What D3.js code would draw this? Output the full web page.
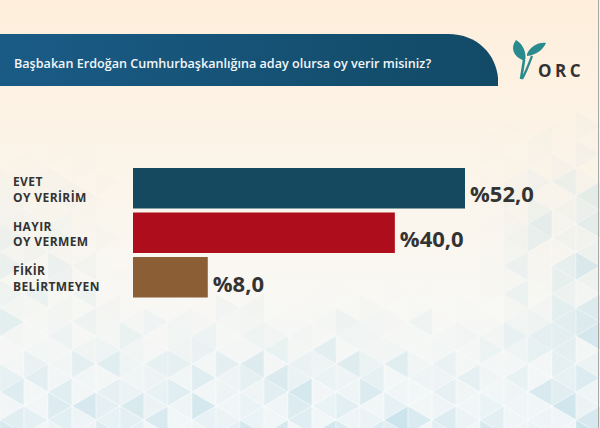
<!DOCTYPE html>
<html>
<head>
<meta charset="utf-8">
<script src="https://cdn.jsdelivr.net/npm/d3@7"></script>
<style>
  html, body { margin: 0; padding: 0; background: #fdf6ec; }
  svg { display: block; }
  text { font-family: "Open Sans", "Noto Sans", sans-serif; }
</style>
</head>
<body>
<svg id="viz" width="600" height="428"></svg>
<script>
// data
var title = "Başbakan Erdoğan Cumhurbaşkanlığına aday olursa oy verir misiniz?";
var categories = ["EVET|OY VERİRİM", "HAYIR|OY VERMEM", "FİKİR|BELİRTMEYEN"];
var values = [52.0, 40.0, 8.0];
var colors = ["#14495f", "#ae0e1b", "#8b5e35"];

function draw() {

    var width = 600,
        height = 428;

    var svg = d3.select("#viz");
    var defs = svg.append("defs");

    // background
    var bg = defs.append("linearGradient")
        .attr("id", "bg")
        .attr("x1", 0).attr("y1", 0).attr("x2", 0).attr("y2", 1);
    bg.append("stop").attr("offset", "0%").attr("stop-color", "#feeedb");
    bg.append("stop").attr("offset", "35%").attr("stop-color", "#fcf4e8");
    bg.append("stop").attr("offset", "70%").attr("stop-color", "#f9f8f4");
    bg.append("stop").attr("offset", "100%").attr("stop-color", "#f6f9fa");

    svg.append("rect")
        .attr("width", width)
        .attr("height", height)
        .attr("fill", "url(#bg)");

    //triangle pattern
    var cw = 24, th = 28;
    var tris = [];
    function hash(a, b) {
        var h = Math.sin(a * 127.1 + b * 311.7) * 43758.5453;
        return h - Math.floor(h);
    }
    function clamp(v) { return Math.max(0, Math.min(1, v)); }
    function weight(x, y) {
        var w = clamp((y - 290) / 120);
        w = Math.max(w, 0.8 * clamp((x - 480) / 100) * clamp((y - 110) / 120));
        w = Math.max(w, 0.55 * clamp((140 - x) / 120) * clamp((y - 130) / 160));
        return w;
    }
    for (var i = 0; i * cw < width; i++) {
        var x0 = i * cw, x1 = x0 + cw;
        var o = (i % 2) * th / 2 - th;
        for (var k = 0; o + k * th < height; k++) {
            var y = o + k * th;
            tris.push({ pts: [[x0, y], [x0, y + th], [x1, y + th / 2]], h: hash(i, k * 2), cx: x0 + cw / 3, cy: y + th / 2 });
            tris.push({ pts: [[x1, y + th / 2], [x1, y + th * 1.5], [x0, y + th]], h: hash(i, k * 2 + 1), cx: x1 - cw / 3, cy: y + th });
        }
    }

    svg.append("g")
        .selectAll("path")
        .data(tris)
        .enter()
        .append("path")
        .attr("d", function(d) { return "M" + d.pts.join("L") + "Z"; })
        .attr("fill", "#a9d2e0")
        .attr("fill-opacity", function(d) {
            var w = weight(d.cx, d.cy);
            return w * (0.06 + 0.5 * d.h * d.h);
        })
        .attr("stroke", "#ffffff")
        .attr("stroke-opacity", function(d) { return 0.5 * weight(d.cx, d.cy); })
        .attr("stroke-width", 0.8);

    // right border
    svg.append("line")
        .attr("x1", 598.5).attr("x2", 598.5)
        .attr("y1", 0).attr("y2", height)
        .attr("stroke", "#a8a8a8")
        .attr("stroke-width", 1);

    //title banner
    var bn = defs.append("linearGradient")
        .attr("id", "banner")
        .attr("x1", 0).attr("y1", 0).attr("x2", 1).attr("y2", 0);
    bn.append("stop").attr("offset", "0%").attr("stop-color", "#1a5b86");
    bn.append("stop").attr("offset", "100%").attr("stop-color", "#124a66");

    var path = d3.path();
    path.moveTo(0, 34);
    path.lineTo(448, 34);
    path.bezierCurveTo(478, 34, 496, 55, 498, 78);
    path.lineTo(498, 86);
    path.lineTo(0, 86);
    path.closePath();

    svg.append("path")
        .attr("d", path.toString())
        .attr("fill", "url(#banner)");

    svg.append("text")
        .attr("x", 14)
        .attr("y", 67.5)
        .attr("fill", "#f2f6fa")
        .attr("font-size", "12.6px")
        .attr("font-weight", 600)
        .text(title);

    // logo
    var logo = svg.append("g").attr("transform", "translate(508,36)");
    logo.append("path")
        .attr("d", "M8,4 C2,12 5,21 17,25 C19,17 15,8 8,4 Z")
        .attr("fill", "#2a8b8e");
    logo.append("path")
        .attr("d", "M19,18 C23,10 30,6 38,7 C35,14 28,19 19,20 Z")
        .attr("fill", "#2a8b8e");
    logo.append("path")
        .attr("d", "M16,24 C15,31 14,37 13,43")
        .attr("fill", "none")
        .attr("stroke", "#2a8b8e")
        .attr("stroke-width", 2.6);
    logo.append("path")
        .attr("d", "M24,20 C21,28 18,36 14,43")
        .attr("fill", "none")
        .attr("stroke", "#2a8b8e")
        .attr("stroke-width", 2.2);
    logo.append("text")
        .attr("x", 30)
        .attr("y", 41)
        .attr("fill", "#333333")
        .attr("font-size", "17px")
        .attr("font-weight", 700)
        .attr("letter-spacing", "3.5px")
        .text("ORC");

    //bars
    var xStart = 133;
    var x = d3.scaleLinear()
        .domain([0, d3.max(values)])
        .range([28, 332]);

    var y = d3.scaleBand()
        .domain(categories)
        .range([168, 297.5])
        .paddingInner(0.09)
        .paddingOuter(0);

    var rows = categories.map(function(c, i) {
        return { cat: c, value: values[i], color: colors[i] };
    });

    var bar = svg.selectAll(".bar")
        .data(rows)
        .enter()
        .append("g")
        .attr("class", "bar");

    bar.append("rect")
        .attr("x", xStart)
        .attr("y", function(d) { return y(d.cat); })
        .attr("width", function(d) { return x(d.value); })
        .attr("height", y.bandwidth())
        .attr("fill", function(d) { return d.color; });

    bar.append("text")
        .attr("x", function(d) { return xStart + x(d.value) + 5; })
        .attr("y", function(d) { return y(d.cat) + y.bandwidth() - 6; })
        .attr("fill", "#333333")
        .attr("font-size", "22px")
        .attr("font-weight", 700)
        .text(function(d) { return "%" + d.value.toFixed(1).replace(".", ","); });

    // category labels
    var lab = bar.append("text")
        .attr("fill", "#333333")
        .attr("font-size", "12px")
        .attr("font-weight", 700)
        .attr("letter-spacing", "0.4px");

    lab.selectAll("tspan")
        .data(function(d) {
            var mid = y(d.cat) + y.bandwidth() / 2;
            return d.cat.split("|").map(function(t, j) {
                return { t: t, y: mid - 2 + j * 15.5 };
            });
        })
        .enter()
        .append("tspan")
        .attr("x", 13)
        .attr("y", function(d) { return d.y; })
        .text(function(d) { return d.t; });
} //draw

draw();
</script>
</body>
</html>
